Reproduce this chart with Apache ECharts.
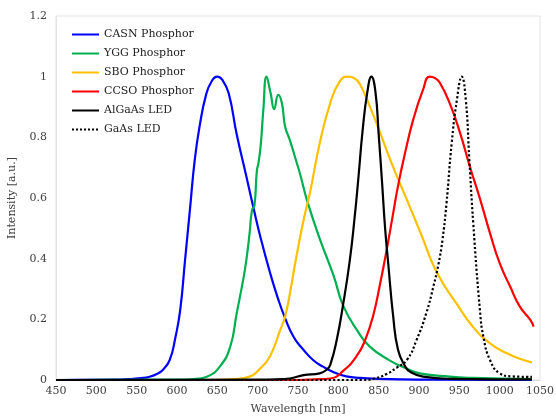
<!DOCTYPE html>
<html>
<head>
<meta charset="utf-8">
<script src="https://cdn.jsdelivr.net/npm/echarts@6/dist/echarts.min.js"></script>
<style>
	html, body { margin: 0; padding: 0; background: #fff; }
	#main { width: 556px; height: 416px; }
</style>
</head>
<body>
<div id="main"></div>
<script>
// [wavelength nm, intensity a.u.]
var casn = [[450,0],[520,0.001],[540,0.003],[555,0.006],[565,0.01],[575,0.02],[583,0.035],[591,0.066],[598,0.14],[604,0.231],[610,0.396],[616,0.561],[622,0.726],[628,0.836],[636,0.94],[643,0.985],[650,1.0],[656,0.99],[664,0.946],[674,0.81],[686,0.671],[695,0.565],[704,0.465],[715,0.357],[725,0.27],[734,0.204],[745,0.14],[757,0.099],[769,0.065],[781,0.044],[795,0.025],[810,0.012],[827,0.007],[850,0.004],[880,0.002],[920,0.001],[1040,0]];
var ygg = [[450,0],[600,0.001],[620,0.003],[637,0.011],[653,0.044],[666,0.11],[674,0.22],[682,0.33],[686,0.396],[690,0.484],[693,0.56],[696,0.575],[699,0.69],[701,0.715],[704,0.78],[707,0.89],[711,1.0],[716,0.946],[720.5,0.893],[725.5,0.94],[730,0.913],[734,0.836],[740,0.79],[748,0.72],[753,0.675],[761,0.594],[777,0.465],[794,0.345],[806,0.245],[823,0.165],[839,0.11],[864,0.064],[885,0.037],[901,0.022],[938,0.011],[967,0.007],[1040,0.003]];
var sbo = [[450,0],[640,0],[670,0.003],[690,0.011],[702,0.035],[715,0.077],[728,0.165],[734,0.209],[740,0.286],[748,0.407],[757,0.528],[765,0.62],[777,0.781],[790,0.913],[802,0.985],[812,1.0],[820,0.995],[827,0.974],[839,0.902],[852,0.814],[866,0.715],[885,0.594],[903,0.478],[922,0.355],[947,0.25],[967,0.175],[988,0.121],[1009,0.088],[1025,0.07],[1040,0.058]];
var ccso = [[450,0],[750,0],[770,0.002],[790,0.005],[806,0.03],[823,0.08],[833,0.13],[843,0.21],[852,0.32],[860,0.43],[868,0.55],[874,0.64],[882,0.74],[893,0.86],[905,0.957],[913,1.0],[920,0.995],[926,0.979],[938,0.913],[951,0.814],[963,0.704],[976,0.594],[988,0.484],[1000,0.385],[1013,0.308],[1025,0.242],[1038,0.198],[1042,0.176]];
var algaas = [[450,0],[700,0.001],[730,0.003],[740,0.005],[757,0.016],[777,0.022],[786,0.035],[790,0.05],[798,0.132],[806,0.25],[814,0.39],[820,0.53],[825,0.67],[830,0.82],[836,0.95],[841,1.0],[846,0.95],[850,0.81],[854,0.66],[858,0.5],[862,0.38],[868,0.21],[874,0.1],[883,0.044],[889,0.027],[905,0.011],[940,0.004],[1040,0.002]];
var gaas = [[450,0],[830,0],[845,0.005],[860,0.02],[872,0.04],[885,0.066],[897,0.132],[909,0.22],[918,0.31],[924,0.38],[929,0.46],[934,0.58],[940.5,0.78],[947,0.924],[953,1.0],[958,0.924],[962.4,0.726],[967.3,0.515],[975.5,0.231],[980,0.14],[988,0.066],[1000,0.022],[1015,0.012],[1040,0.01]];

var names = ['CASN Phosphor', 'YGG Phosphor', 'SBO Phosphor', 'CCSO Phosphor', 'AlGaAs LED', 'GaAs LED'];

var chart = echarts.init(document.getElementById('main'), null, { renderer: 'canvas' });
var font = 'DejaVu Serif';
var textColor = '#404040';

function curve(name, data, color, type) {
	return {
		name: name,
		type: 'line',
		data: data,
		symbol: 'none',
		smooth: 0.5,
		color: color,
		lineStyle: { color: color, width: 2.2, type: type || 'solid' },
		z: 2
	};
}

var option = {
	animation: false,
	grid: {
		left: 56,
		right: 16,
		top: 16,
		bottom: 36,
		outerBoundsMode: 'none',
		show: true,
		borderColor: '#e3e3e3',
		borderWidth: 1
	},
	legend: {
		data: names,
		orient: 'vertical',
		left: 66,
		top: 24,
		itemWidth: 27,
		itemHeight: 12,
		itemGap: 8,
		itemStyle: { opacity: 0 },
		textStyle: { fontFamily: font, fontSize: 11, color: '#222' }
	},
	xAxis: {
		type: 'value',
		min: 450,
		max: 1050,
		interval: 50,
		name: 'Wavelength [nm]',
		nameLocation: 'middle',
		nameGap: 24,
		nameTextStyle: { fontFamily: font, fontSize: 11, color: textColor },
		axisLabel: {
			fontFamily: font, fontSize: 11, color: textColor, margin: 6,
			formatter: function(v) { return String(v); }
		},
		axisTick: { show: false },
		axisLine: { lineStyle: { color: '#d9d9d9' } },
		splitLine: { show: false }
	},
	yAxis: {
		type: 'value',
		min: 0,
		max: 1.2,
		interval: 0.2,
		name: 'Intensity [a.u.]',
		nameLocation: 'middle',
		nameGap: 38,
		nameTextStyle: { fontFamily: font, fontSize: 11, color: textColor },
		axisLabel: { fontFamily: font, fontSize: 11, color: textColor, margin: 9 },
		axisTick: { show: false },
		axisLine: { show: true, lineStyle: { color: '#e3e3e3' } },
		splitLine: { show: false }
	},
	series: [
		curve(names[0], casn, '#0000ff'),
		curve(names[1], ygg, '#00b050'),
		curve(names[2], sbo, '#ffc000'),
		curve(names[3], ccso, '#ff0000'),
		curve(names[4], algaas, '#000000'),
		curve(names[5], gaas, '#000000', 'dotted')
	]
};

chart.setOption(option);

window.onresize = function() {
	chart.resize();
};
</script>
</body>
</html>
